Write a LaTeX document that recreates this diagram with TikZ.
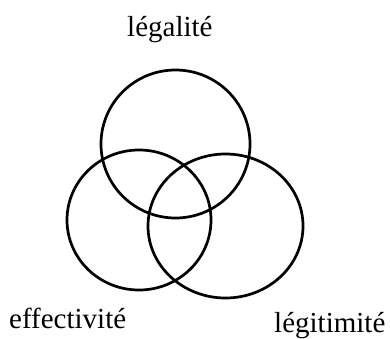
\documentclass[tikz,border=0pt]{standalone}
\usepackage{fontspec}
\setmainfont{Liberation Serif}
\begin{document}
\begin{tikzpicture}[x=1pt,y=1pt,
  ring/.style={draw=black,line width=2.7pt},
  lbl/.style={inner sep=0pt,anchor=base west,font=\fontsize{29}{33}\selectfont}]
\useasboundingbox (0,0) rectangle (390,338);
\draw[ring] (175.5,194) ellipse [x radius=74.5,y radius=74];
\draw[ring] (139,118) ellipse [x radius=72,y radius=70];
\draw[ring] (225.5,112) ellipse [x radius=77.5,y radius=72];
\node[lbl] (leg) at (127,301) {légalité};
\node[lbl] (eff) at (9,10) {effectivité};
\node[lbl] (legi) at (274,6) {légitimité};
\end{tikzpicture}
\end{document}
